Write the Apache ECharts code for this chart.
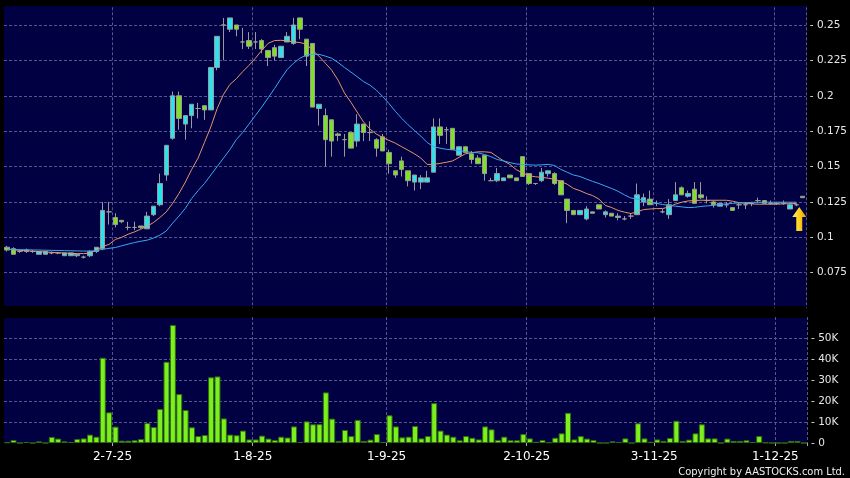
<!DOCTYPE html>
<html>
<head>
<meta charset="utf-8">
<script src="https://cdn.jsdelivr.net/npm/echarts@6/dist/echarts.min.js"></script>
<style>
html,body{margin:0;padding:0;background:#000;}
#chart{width:850px;height:478px;}
</style>
</head>
<body>
<div id="chart"></div>
<script>
const dates = [
'2025-06-06','2025-06-09','2025-06-10','2025-06-11','2025-06-12','2025-06-13','2025-06-16','2025-06-17','2025-06-18','2025-06-19',
'2025-06-20','2025-06-23','2025-06-24','2025-06-25','2025-06-26','2025-06-27','2025-06-30',
'2025-07-02','2025-07-03','2025-07-04','2025-07-07','2025-07-08','2025-07-09','2025-07-10','2025-07-11','2025-07-14','2025-07-15',
'2025-07-16','2025-07-17','2025-07-18','2025-07-21','2025-07-22','2025-07-23','2025-07-24','2025-07-25','2025-07-28','2025-07-29',
'2025-07-30','2025-07-31',
'2025-08-01','2025-08-04','2025-08-05','2025-08-06','2025-08-07','2025-08-08','2025-08-11','2025-08-12','2025-08-13','2025-08-14',
'2025-08-15','2025-08-18','2025-08-19','2025-08-20','2025-08-21','2025-08-22','2025-08-25','2025-08-26','2025-08-27','2025-08-28',
'2025-08-29',
'2025-09-01','2025-09-02','2025-09-03','2025-09-04','2025-09-05','2025-09-08','2025-09-09','2025-09-10','2025-09-11','2025-09-12',
'2025-09-15','2025-09-16','2025-09-17','2025-09-18','2025-09-19','2025-09-22','2025-09-23','2025-09-24','2025-09-25','2025-09-26',
'2025-09-29','2025-09-30',
'2025-10-02','2025-10-03','2025-10-06','2025-10-08','2025-10-09','2025-10-10','2025-10-13','2025-10-14','2025-10-15','2025-10-16',
'2025-10-17','2025-10-20','2025-10-21','2025-10-22','2025-10-23','2025-10-24','2025-10-27','2025-10-28','2025-10-30','2025-10-31',
'2025-11-03','2025-11-04','2025-11-05','2025-11-06','2025-11-07','2025-11-10','2025-11-11','2025-11-12','2025-11-13','2025-11-14',
'2025-11-17','2025-11-18','2025-11-19','2025-11-20','2025-11-24','2025-11-25','2025-11-26','2025-11-27','2025-11-28',
'2025-12-01','2025-12-02','2025-12-03','2025-12-04','2025-12-05'
];

const openP = [
.093,.092,.090,.090,.090,.088,.088,.089,.089,.087,
.087,.087,.086,.087,.090,.092,.118,.114,.112,.107,
.107,.108,.106,.116,.123,.144,.170,.200,.180,.186,
.191,.193,.190,.220,.250,.247,.250,.238,.239,.238,
.239,.232,.234,.227,.238,.237,.255,.240,.237,.191,
.186,.183,.173,.169,.174,.168,.180,.174,.169,.171,
.160,.147,.154,.147,.139,.139,.139,.146,.178,.176,
.177,.158,.164,.159,.156,.158,.140,.140,.140,.144,
.142,.157,.145,.138,.140,.145,.145,.140,.127,.119,
.116,.113,.118,.123,.116,.117,.114,.113,.115,.116,
.125,.127,.124,.118,.116,.126,.135,.129,.134,.130,
.126,.125,.122,.123,.121,.123,.123,.124,.126,.126,
.124,.124,.124,.120,.123,.129
];
const closeP = [
.091,.088,.090,.091,.090,.090,.090,.089,.089,.089,
.089,.088,.086,.090,.093,.119,.118,.109,.111,.107,
.107,.107,.115,.122,.138,.165,.200,.184,.186,.194,
.191,.190,.220,.242,.250,.255,.247,.238,.235,.238,
.233,.227,.228,.235,.242,.250,.247,.228,.192,.194,
.169,.168,.172,.169,.163,.180,.174,.174,.163,.161,
.152,.144,.148,.140,.144,.142,.142,.178,.172,.176,
.162,.164,.160,.155,.152,.145,.140,.145,.142,.142,
.140,.143,.138,.138,.146,.147,.138,.130,.119,.116,
.119,.120,.117,.120,.118,.115,.115,.113,.115,.130,
.128,.123,.124,.118,.123,.130,.130,.131,.124,.128,
.126,.123,.124,.123,.119,.123,.123,.124,.126,.124,
.124,.124,.124,.123,.123,.128
];
const lowP = [
.090,.088,.089,.089,.089,.088,.088,.088,.088,.087,
.087,.086,.085,.086,.089,.091,.109,.107,.110,.105,
.105,.106,.106,.115,.122,.140,.169,.176,.169,.177,
.184,.183,.190,.218,.225,.245,.242,.233,.233,.233,
.230,.221,.225,.227,.238,.236,.240,.221,.192,.179,
.150,.157,.168,.157,.163,.164,.168,.168,.157,.161,
.145,.142,.143,.136,.133,.134,.139,.146,.166,.166,
.162,.158,.160,.152,.152,.140,.140,.139,.140,.142,
.140,.143,.137,.137,.139,.143,.137,.130,.110,.116,
.116,.112,.117,.120,.114,.115,.112,.112,.113,.116,
.122,.123,.122,.117,.113,.126,.130,.128,.124,.127,
.124,.121,.122,.121,.119,.120,.120,.122,.124,.124,
.123,.123,.123,.120,.122,.128
];
const highP = [
.094,.093,.091,.092,.091,.090,.090,.090,.089,.089,
.089,.088,.087,.091,.093,.125,.125,.117,.112,.111,
.111,.108,.118,.122,.145,.165,.203,.203,.186,.194,
.195,.193,.220,.242,.255,.255,.250,.248,.245,.245,
.240,.232,.236,.235,.245,.255,.255,.240,.237,.194,
.191,.183,.174,.173,.174,.187,.180,.182,.170,.173,
.162,.147,.157,.147,.144,.144,.147,.184,.184,.178,
.177,.164,.164,.161,.158,.158,.142,.149,.142,.144,
.142,.157,.145,.138,.149,.147,.146,.140,.127,.119,
.119,.122,.118,.123,.119,.117,.117,.115,.117,.138,
.131,.133,.126,.120,.127,.139,.136,.133,.139,.139,
.129,.126,.124,.125,.121,.125,.125,.125,.128,.126,
.126,.125,.126,.124,.124,.129
];
const volume = [
300,1400,0,500,0,800,0,2900,2100,800,
500,1900,2200,4000,3000,40600,14600,7800,1100,1100,
1300,1900,9500,7600,16200,38700,56200,23300,15700,7500,
3300,3800,31300,31700,11700,4000,3700,5900,1700,1700,
3500,2100,1400,3000,2600,7900,500,10300,8900,9000,
24100,11600,1000,6200,3300,11000,1000,1600,4300,500,
13200,7900,2700,3000,8100,2200,3300,19000,5900,4000,
3000,1300,3300,2500,1700,7900,6500,1400,3000,1300,
1300,4300,2200,600,1400,300,2500,4600,14400,1700,
3300,2100,1400,0,0,800,500,2200,0,9400,
2200,600,1700,1000,2400,10600,1000,1600,4600,8900,
2200,2200,0,2100,1000,1000,1300,500,3300,200,
0,0,0,1000,1000,0
];
const ma10 = [
0.0917,0.0912,0.0908,0.0905,0.0902,0.0899,0.0896,0.0894,0.0891,0.0889,
0.0887,0.0885,0.0885,0.0888,0.0910,0.0935,0.0950,0.0985,0.1000,0.1022,
0.1038,0.1058,0.1078,0.1105,0.1140,0.1180,0.1240,0.1310,0.1390,0.1480,
0.1560,0.1670,0.1780,0.1910,0.2010,0.2080,0.2120,0.2170,0.2215,0.2265,
0.2320,0.2370,0.2390,0.2392,0.2388,0.2380,0.2376,0.2365,0.2320,0.2280,
0.2230,0.2180,0.2110,0.2020,0.1955,0.1885,0.1815,0.1765,0.1730,0.1705,
0.1685,0.1665,0.1640,0.1615,0.1590,0.1560,0.1515,0.1515,0.1522,0.1530,
0.1540,0.1565,0.1590,0.1598,0.1604,0.1604,0.1600,0.1570,0.1540,0.1515,
0.1478,0.1455,0.1435,0.1428,0.1423,0.1418,0.1410,0.1395,0.1375,0.1345,
0.1330,0.1310,0.1295,0.1270,0.1225,0.1210,0.1190,0.1178,0.1168,0.1180,
0.1196,0.1200,0.1203,0.1203,0.1215,0.1234,0.1248,0.1257,0.1260,0.1262,
0.1262,0.1262,0.1262,0.1262,0.1255,0.1245,0.1240,0.1236,0.1234,0.1234,
0.1234,0.1234,0.1236,0.1238,0.1239,null
];
const ma20 = [
0.0915,0.0914,0.0913,0.0912,0.0911,0.0910,0.0909,0.0908,0.0907,0.0906,
0.0905,0.0904,0.0903,0.0903,0.0906,0.0915,0.0922,0.0928,0.0940,0.0952,
0.0963,0.0972,0.0980,0.0995,0.1015,0.1045,0.1100,0.1150,0.1205,0.1275,
0.1330,0.1380,0.1440,0.1500,0.1560,0.1620,0.1690,0.1740,0.1800,0.1860,
0.1920,0.1985,0.2050,0.2120,0.2185,0.2230,0.2265,0.2288,0.2293,0.2293,
0.2280,0.2265,0.2235,0.2200,0.2168,0.2135,0.2100,0.2075,0.2040,0.1995,
0.1945,0.1890,0.1840,0.1795,0.1755,0.1715,0.1670,0.1640,0.1630,0.1622,
0.1618,0.1612,0.1606,0.1600,0.1597,0.1585,0.1570,0.1550,0.1540,0.1528,
0.1518,0.1515,0.1512,0.1510,0.1512,0.1515,0.1508,0.1480,0.1460,0.1440,
0.1430,0.1412,0.1395,0.1380,0.1362,0.1345,0.1325,0.1300,0.1278,0.1270,
0.1262,0.1250,0.1240,0.1232,0.1226,0.1220,0.1215,0.1210,0.1212,0.1218,
0.1222,0.1226,0.1232,0.1236,0.1240,0.1243,0.1245,0.1247,0.1248,0.1248,
0.1248,0.1248,0.1248,0.1248,0.1248,null
];
const tickDates  = ['2025-07-02','2025-08-01','2025-09-01','2025-10-02','2025-11-03','2025-12-01'];
const tickLabels = ['2-7-25','1-8-25','1-9-25','2-10-25','3-11-25','1-12-25'];
const arrowMark = {date: '2025-12-04', value: 0.113};

const tickSet = new Set(tickDates);
const isTick = (idx, val) => tickSet.has(val);
const UP = '#27e4f0', DOWN = '#7de21f', EDGE = '#9a9a9a';
const GRIDLINE = {color: '#56568c', type: [3, 2], width: 1};
const LBL = {color: '#e6e6e6', fontFamily: 'DejaVu Sans', fontSize: 10.5};

const chart = echarts.init(document.getElementById('chart'), null, {renderer: 'canvas'});
chart.setOption({
  backgroundColor: '#000',
  animation: false,
  graphic: {elements: [
    {type: 'rect', z: -10, silent: true, shape: {x: 4, y: 6, width: 803, height: 300}, style: {fill: '#000042'}},
    {type: 'rect', z: -10, silent: true, shape: {x: 4, y: 318, width: 803, height: 125}, style: {fill: '#000042'}},
    {type: 'text', z: 10, silent: true, x: 845, y: 472,
     style: {text: 'Copyright by AASTOCKS.com Ltd.', fill: '#f0f0f0', font: '11px "DejaVu Sans Condensed", "DejaVu Sans"', align: 'right', verticalAlign: 'middle'}}
  ]},
  grid: [
    {left: 4, right: 43, top: 7.3, height: 300.8},
    {left: 4, right: 43, top: 317, height: 126}
  ],
  xAxis: [
    {type: 'category', gridIndex: 0, data: dates, boundaryGap: true,
     axisLine: {show: false}, axisTick: {show: false}, axisLabel: {show: false},
     splitLine: {show: true, interval: isTick, lineStyle: GRIDLINE}},
    {type: 'category', gridIndex: 1, data: dates, boundaryGap: true, offset: 3,
     axisLine: {show: false},
     axisTick: {show: true, interval: isTick, length: 3, lineStyle: {color: '#aaaaaa'}},
     axisLabel: {show: true, interval: isTick, margin: 5, color: '#ffffff', fontFamily: 'DejaVu Sans', fontSize: 12,
       formatter: v => '{l|' + tickLabels[tickDates.indexOf(v)] + '}',
       rich: {l: {color: '#ffffff', fontFamily: 'DejaVu Sans', fontSize: 12, padding: [0, 6, 0, 0]}}},
     splitLine: {show: true, interval: isTick, lineStyle: GRIDLINE}}
  ],
  yAxis: [
    {type: 'value', gridIndex: 0, position: 'right', min: 0.05, max: 0.2625, interval: 0.025, scale: true,
     axisLine: {show: false}, axisTick: {show: false},
     axisLabel: Object.assign({margin: 4, showMinLabel: false, showMaxLabel: false,
       formatter: v => '- ' + String(+v.toFixed(4))}, LBL),
     splitLine: {show: true, showMinLine: false, showMaxLine: false, lineStyle: GRIDLINE}},
    {type: 'value', gridIndex: 1, position: 'right', min: 0, max: 60000, interval: 10000,
     axisLine: {show: false}, axisTick: {show: false},
     axisLabel: Object.assign({margin: 4, showMaxLabel: false,
       formatter: v => v === 0 ? '- 0' : '- ' + Math.round(v / 1000) + 'K'}, LBL),
     splitLine: {show: true, showMinLine: false, showMaxLine: false, lineStyle: GRIDLINE}}
  ],
  series: [
    {type: 'candlestick', xAxisIndex: 0, yAxisIndex: 0, barWidth: 5,
     data: dates.map((d, i) => [openP[i], closeP[i], lowP[i], highP[i]]),
     itemStyle: {color: UP, color0: DOWN, borderColor: EDGE, borderColor0: EDGE, borderColorDoji: EDGE, borderWidth: 1},
     markPoint: {
       symbol: 'path://M7,0 L14,10 L10,10 L10,24 L4,24 L4,10 L0,10 Z',
       symbolSize: [14, 24], symbolOffset: [3, 0], label: {show: false}, silent: true,
       itemStyle: {color: new echarts.graphic.LinearGradient(0, 0, 1, 0, [
         {offset: 0, color: '#ffe866'}, {offset: 0.5, color: '#ffd21a'}, {offset: 1, color: '#e39a00'}])},
       data: [{coord: [arrowMark.date, arrowMark.value]}]
     }},
    {type: 'line', xAxisIndex: 0, yAxisIndex: 0, data: ma10, showSymbol: false, symbol: 'none',
     lineStyle: {color: '#e8956a', width: 1}, z: 3},
    {type: 'line', xAxisIndex: 0, yAxisIndex: 0, data: ma20, showSymbol: false, symbol: 'none',
     lineStyle: {color: '#3aa8f2', width: 1}, z: 3},
    {type: 'bar', xAxisIndex: 1, yAxisIndex: 1, data: volume, barWidth: 6,
     itemStyle: {color: '#7cf01e', borderColor: '#2f6e0c', borderWidth: 1}}
  ]
});
</script>
</body>
</html>
